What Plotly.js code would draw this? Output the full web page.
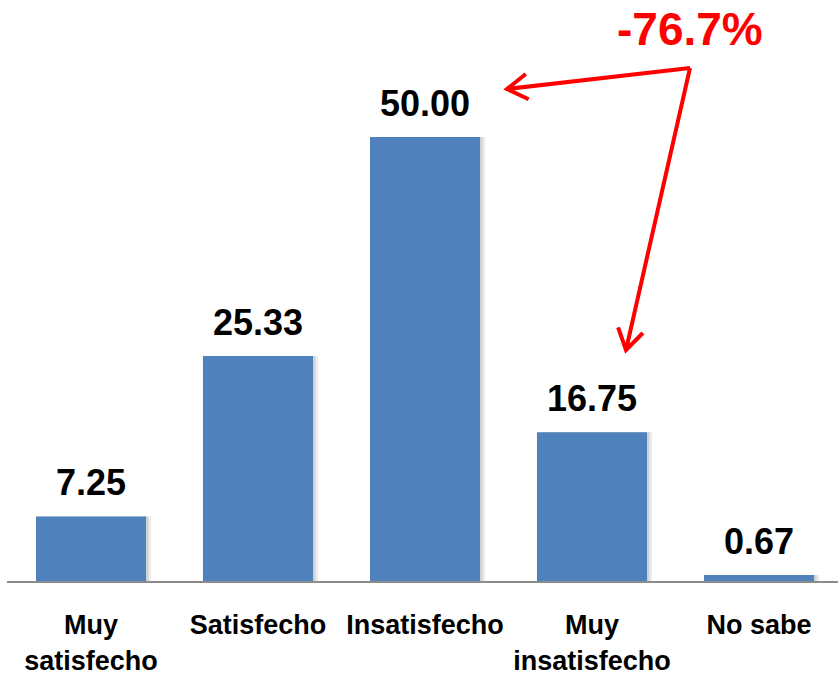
<!DOCTYPE html>
<html>
<head>
<meta charset="utf-8">
<script src="https://cdn.plot.ly/plotly-3.0.1.min.js"></script>
<style>html,body{margin:0;padding:0;background:#fff;}#chart{width:838px;height:678px;}</style>
</head>
<body>
<div id="chart"></div>
<script>
const categories = ["Muy<br>satisfecho", "Satisfecho", "Insatisfecho", "Muy<br>insatisfecho", "No sabe"];
const values = [7.25, 25.33, 50.00, 16.75, 0.67];
const valueLabels = ["7.25", "25.33", "50.00", "16.75", "0.67"];
const changeLabel = "-76.7%";

const FONT = "Liberation Sans, Arial, sans-serif";
const idx = categories.map((_, i) => i);
const BW = 0.659;

// pixel -> data helpers for the annotation arrows (decoration only)
const X0PX = 91, XSTEP = 167, Y0PX = 581, YUNIT = 8.88;
const px2x = p => (p - X0PX) / XSTEP;
const py2y = p => (Y0PX - p) / YUNIT;

function arrowPath(vx, vy, tx, ty, len, angDeg) {
  const dx = vx - tx, dy = vy - ty, L = Math.hypot(dx, dy);
  const bx = dx / L, by = dy / L, a = angDeg * Math.PI / 180;
  const r1 = [bx * Math.cos(a) - by * Math.sin(a), bx * Math.sin(a) + by * Math.cos(a)];
  const r2 = [bx * Math.cos(-a) - by * Math.sin(-a), bx * Math.sin(-a) + by * Math.cos(-a)];
  const P = (x, y) => px2x(x) + "," + py2y(y);
  return "M" + P(vx, vy) + " L" + P(tx, ty) +
         " M" + P(tx + r1[0] * len, ty + r1[1] * len) + " L" + P(tx, ty) +
         " L" + P(tx + r2[0] * len, ty + r2[1] * len);
}

const shadow1 = {
  type: "bar", x: idx, y: values, width: BW, offset: -BW / 2 + 0.03,
  marker: {color: "rgba(0,0,0,0.08)"}, hoverinfo: "skip", showlegend: false
};
const shadow2 = {
  type: "bar", x: idx, y: values, width: BW, offset: -BW / 2 + 0.015,
  marker: {color: "rgba(0,0,0,0.10)"}, hoverinfo: "skip", showlegend: false
};
const bars = {
  type: "bar", x: idx, y: values, width: BW, offset: -BW / 2,
  marker: {color: "#4F81BD"}, hoverinfo: "skip", showlegend: false
};

const annotations = values.map((v, i) => ({
  x: i, y: v, xref: "x", yref: "y", text: "<b>" + valueLabels[i] + "</b>",
  showarrow: false, yanchor: "middle", yshift: 34,
  font: {family: FONT, size: 36, color: "#000"}
}));
annotations.push({
  x: px2x(690), y: py2y(29), xref: "x", yref: "y", text: "<b>" + changeLabel + "</b>",
  showarrow: false, font: {family: FONT, size: 46, color: "#FF0000"}
});

const layout = {
  width: 838, height: 678,
  margin: {l: 7, r: 0, t: 20, b: 97},
  paper_bgcolor: "#fff", plot_bgcolor: "#fff",
  barmode: "overlay",
  xaxis: {
    range: [-84 / 167, -84 / 167 + 831 / 167],
    tickvals: idx, ticktext: categories.map(c => "<b>" + c.replace("<br>", "</b><br><b>") + "</b>"),
    ticks: "", showgrid: false, zeroline: false,
    showline: true, linecolor: "#8c8c8c", linewidth: 2,
    ticklabelstandoff: 19,
    tickfont: {family: FONT, size: 27, color: "#000"}
  },
  yaxis: {
    range: [0, 561 / 8.88], visible: false, showgrid: false, zeroline: false
  },
  annotations: annotations,
  shapes: [
    {type: "path", xref: "x", yref: "y", path: arrowPath(690, 68, 507, 89, 24, 32),
     line: {color: "#FF0000", width: 4}},
    {type: "path", xref: "x", yref: "y", path: arrowPath(690, 68, 626, 350, 24, 32),
     line: {color: "#FF0000", width: 4}}
  ],
  hovermode: false
};

Plotly.newPlot("chart", [shadow1, shadow2, bars], layout, {displayModeBar: false, staticPlot: true});
</script>
</body>
</html>
